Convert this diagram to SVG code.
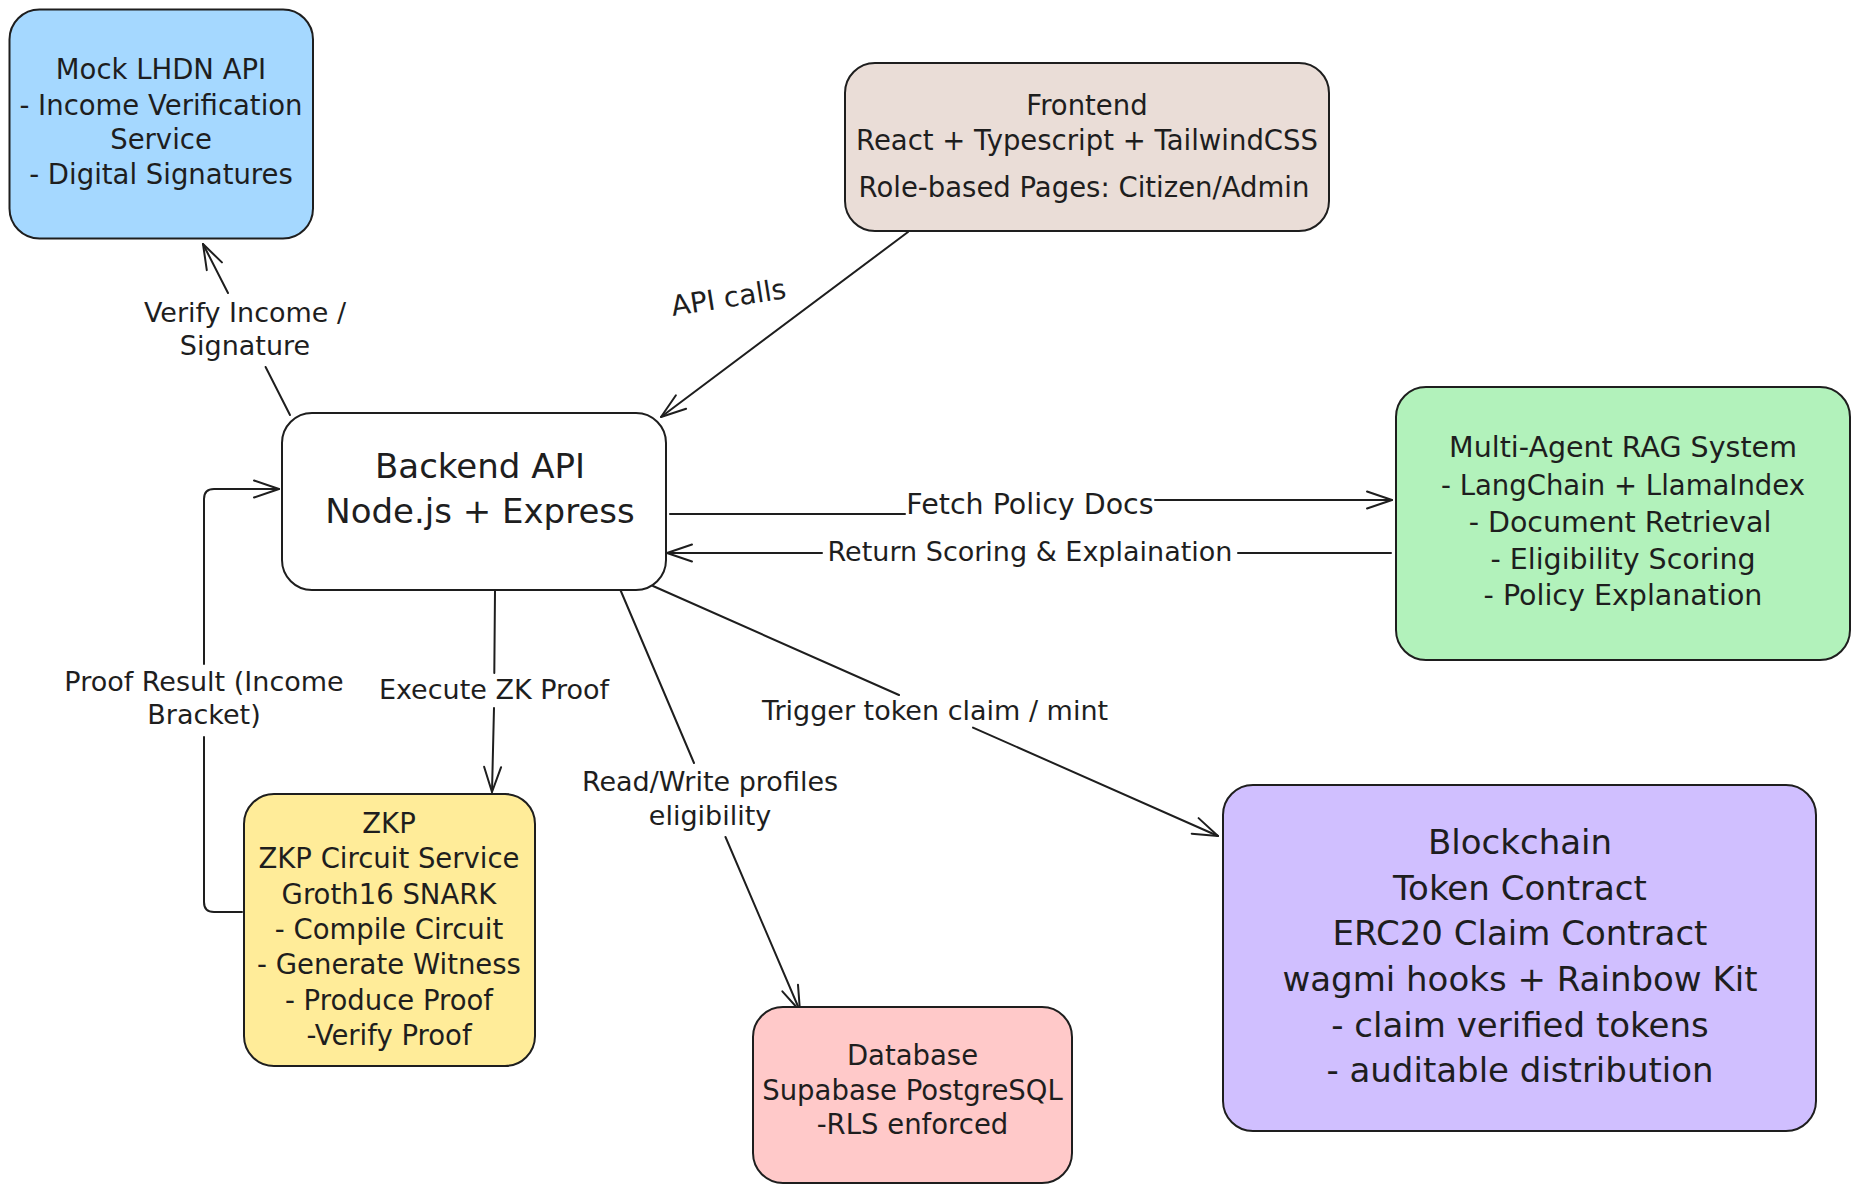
<svg xmlns="http://www.w3.org/2000/svg" width="1859" height="1193" viewBox="0 0 1859 1193">
  <style>
    .box { stroke: #1e1e1e; stroke-width: 2; }
    text { font-family: "DejaVu Sans", "Liberation Sans", sans-serif; fill: #1e1e1e; text-anchor: middle; }
    .t { font-size: 27.5px; }
    .big { font-size: 34px; }
    .lbl { font-size: 27px; }
    .edge { stroke: #1e1e1e; stroke-width: 2; fill: none; stroke-linecap: round; stroke-linejoin: round; }
  </style>
  <defs>
    <marker id="arr" markerUnits="userSpaceOnUse" markerWidth="40" markerHeight="30" viewBox="-30 -15 40 30" refX="0" refY="0" orient="auto" overflow="visible">
      <path d="M-25,-8.5 L0,0 L-25,8.5" fill="none" stroke="#1e1e1e" stroke-width="2" stroke-linecap="round" stroke-linejoin="round"/>
    </marker>
  </defs>
  <rect width="1859" height="1193" fill="#ffffff"/>

  <g id="connectors">
    <!-- Backend -> Mock LHDN -->
    <path class="edge" d="M290,415 L265.6,367"/>
    <path class="edge" d="M228,293 L203,244" marker-end="url(#arr)"/>
    <text class="lbl" x="245" y="322">Verify Income /</text>
    <text class="lbl" x="245" y="355">Signature</text>

    <!-- Frontend -> Backend -->
    <path class="edge" d="M908,232 L661,417" marker-end="url(#arr)"/>
    <text class="lbl" x="730" y="307" transform="rotate(-9 730 307)" style="font-size:28px">API calls</text>

    <!-- Backend -> Multi-Agent -->
    <path class="edge" d="M670,514 L905,514"/>
    <path class="edge" d="M1155,500 L1392,500" marker-end="url(#arr)"/>
    <text class="lbl" x="1030" y="514" style="font-size:28.5px">Fetch Policy Docs</text>

    <!-- Multi-Agent -> Backend -->
    <path class="edge" d="M1391,553 L1238,553"/>
    <path class="edge" d="M822,553 L667,553" marker-end="url(#arr)"/>
    <text class="lbl" x="1030" y="561">Return Scoring &amp; Explaination</text>

    <!-- Backend -> ZKP -->
    <path class="edge" d="M495,591 L494.3,673"/>
    <path class="edge" d="M494,708 L492,792" marker-end="url(#arr)"/>
    <text class="lbl" x="494" y="699">Execute ZK Proof</text>

    <!-- ZKP -> Backend -->
    <path class="edge" d="M242,912 L214,912 Q204,912 204,902 L204,737"/>
    <path class="edge" d="M204,664 L204,499 Q204,489 214,489 L279,489" marker-end="url(#arr)"/>
    <text class="lbl" x="204" y="691">Proof Result (Income</text>
    <text class="lbl" x="204" y="724">Bracket)</text>

    <!-- Backend -> Database -->
    <path class="edge" d="M620,589 L694,763"/>
    <path class="edge" d="M725.5,837 L800,1011" marker-end="url(#arr)"/>
    <text class="lbl" x="710" y="791">Read/Write profiles</text>
    <text class="lbl" x="710" y="825">eligibility</text>

    <!-- Backend -> Blockchain -->
    <path class="edge" d="M653,586 L899,695"/>
    <path class="edge" d="M973,727.6 L1218,836" marker-end="url(#arr)"/>
    <text class="lbl" x="935" y="720">Trigger token claim / mint</text>
  </g>

  <g id="mock-lhdn">
    <rect class="box" x="9.5" y="9.5" width="303.5" height="229" rx="30" fill="#a5d8ff"/>
    <text class="t" x="161" y="79">Mock LHDN API</text>
    <text class="t" x="161" y="114.5">- Income Verification</text>
    <text class="t" x="161" y="149">Service</text>
    <text class="t" x="161" y="184">- Digital Signatures</text>
  </g>

  <g id="frontend">
    <rect class="box" x="845" y="63" width="484" height="168" rx="30" fill="#eaddd7"/>
    <text class="t" x="1087" y="115">Frontend</text>
    <text class="t" x="1087" y="150">React + Typescript + TailwindCSS</text>
    <text class="t" x="1084" y="197">Role-based Pages: Citizen/Admin</text>
  </g>

  <g id="backend">
    <rect class="box" x="282" y="413" width="384" height="177" rx="30" fill="#ffffff"/>
    <text class="big" x="480" y="478">Backend API</text>
    <text class="big" x="480" y="523">Node.js + Express</text>
  </g>

  <g id="multi-agent">
    <rect class="box" x="1396" y="387" width="454" height="273" rx="30" fill="#b2f2bb"/>
    <text class="t" x="1623" y="457" style="font-size:28.5px">Multi-Agent RAG System</text>
    <text class="t" x="1623" y="495">- LangChain + LlamaIndex</text>
    <text class="t" x="1620" y="532" style="font-size:28.5px">- Document Retrieval</text>
    <text class="t" x="1623" y="569" style="font-size:28.5px">- Eligibility Scoring</text>
    <text class="t" x="1623" y="605" style="font-size:28.5px">- Policy Explanation</text>
  </g>

  <g id="zkp">
    <rect class="box" x="244" y="794" width="291" height="272" rx="30" fill="#ffec99"/>
    <text class="t" x="389" y="833">ZKP</text>
    <text class="t" x="389" y="868">ZKP Circuit Service</text>
    <text class="t" x="389" y="903.5">Groth16 SNARK</text>
    <text class="t" x="389" y="939">- Compile Circuit</text>
    <text class="t" x="389" y="974">- Generate Witness</text>
    <text class="t" x="389" y="1010">- Produce Proof</text>
    <text class="t" x="389" y="1045">-Verify Proof</text>
  </g>

  <g id="database">
    <rect class="box" x="753" y="1007" width="319" height="176" rx="30" fill="#ffc9c9"/>
    <text class="t" x="912.5" y="1065">Database</text>
    <text class="t" x="912.5" y="1099.5">Supabase PostgreSQL</text>
    <text class="t" x="912.5" y="1134">-RLS enforced</text>
  </g>

  <g id="blockchain">
    <rect class="box" x="1223" y="785" width="593" height="346" rx="30" fill="#d0bfff"/>
    <text class="big" x="1520" y="854">Blockchain</text>
    <text class="big" x="1520" y="900">Token Contract</text>
    <text class="big" x="1520" y="945">ERC20 Claim Contract</text>
    <text class="big" x="1520" y="991">wagmi hooks + Rainbow Kit</text>
    <text class="big" x="1520" y="1037">- claim verified tokens</text>
    <text class="big" x="1520" y="1082">- auditable distribution</text>
  </g>
</svg>
